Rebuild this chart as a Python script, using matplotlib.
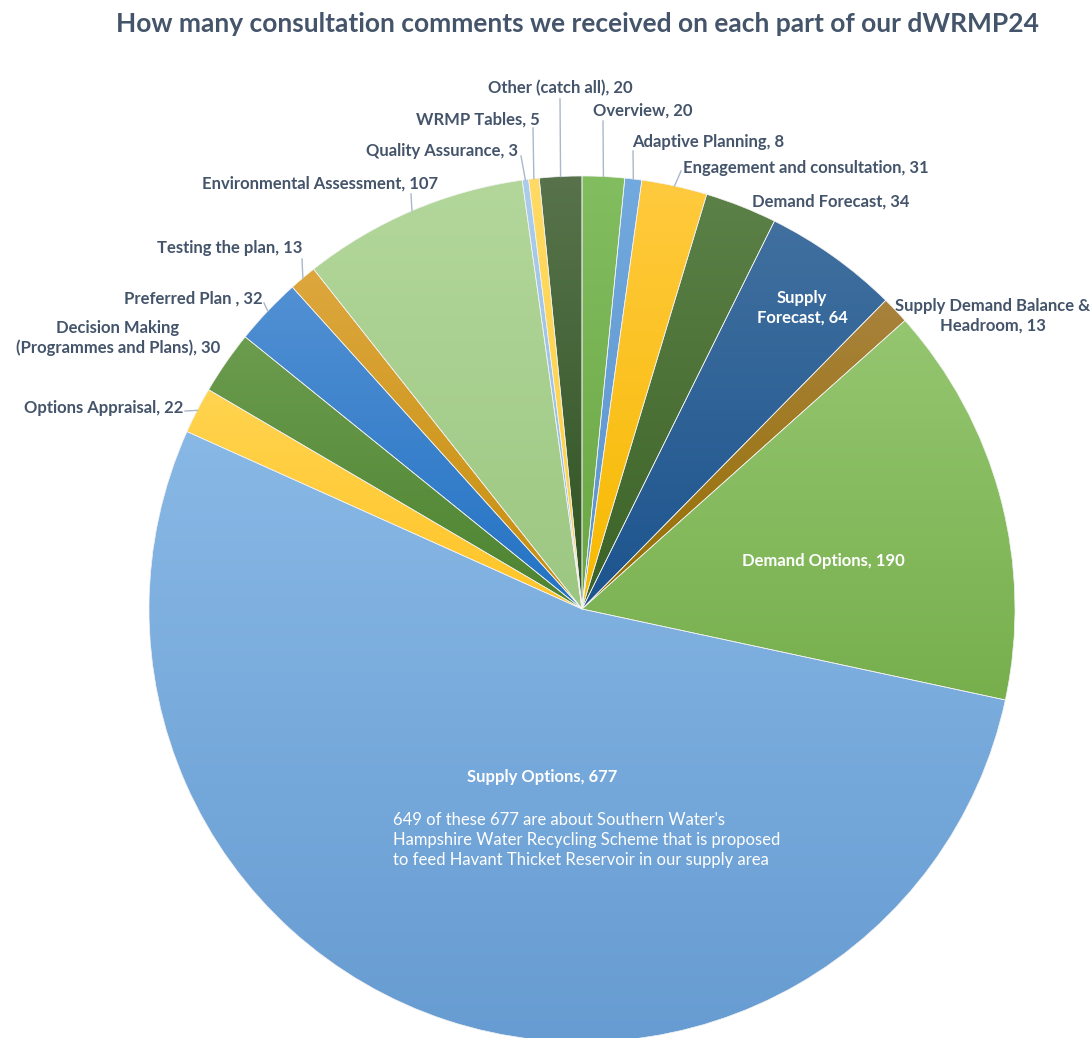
import numpy as np
import matplotlib.pyplot as plt
from matplotlib.colors import LinearSegmentedColormap

W, H = 1090, 1038

sections = ["Overview", "Adaptive Planning", "Engagement and consultation",
            "Demand Forecast", "Supply\nForecast", "Supply Demand Balance &\nHeadroom",
            "Demand Options", "Supply Options", "Options Appraisal",
            "Decision Making\n(Programmes and Plans)", "Preferred Plan ",
            "Testing the plan", "Environmental Assessment", "Quality Assurance",
            "WRMP Tables", "Other (catch all)"]
comments = [20, 8, 31, 34, 64, 13, 190, 677, 22, 30, 32, 13, 107, 3, 5, 20]

# gradient ends for each slice (top, bottom)
top_colors = ["#82BE60", "#72A9DE", "#FFCA3E", "#5C8148", "#41709F", "#A8823C",
              "#95C670", "#88B8E5", "#FFD450", "#6C9C4E", "#5290D3", "#DDA73E",
              "#B3D79B", "#ABCDEC", "#FFDA64", "#58734C"]
bottom_colors = ["#6AA643", "#5A93CC", "#F7B900", "#3B6226", "#1C548E", "#967000",
                 "#77AF4D", "#679CD2", "#FFC426", "#4C8330", "#2272C4", "#C68E0C",
                 "#9CC781", "#90BAE2", "#FFCF3E", "#2E5320"]

supply_note = ("649 of these 677 are about Southern Water's\n"
               "Hampshire Water Recycling Scheme that is proposed\n"
               "to feed Havant Thicket Reservoir in our supply area")

# label anchor (x, y from top), alignment, colour, leader start or None
label_layout = [
    ((593, 111), "left", "dark", (603, 121)),
    ((632, 142), "left", "dark", (633, 151)),
    ((683, 168), "left", "dark", (681, 171)),
    ((752, 202), "left", "dark", None),
    ((802, 308), "center", "light", None),
    ((993, 316), "center", "dark", None),
    ((823, 561), "center", "light", None),
    ((542, 777), "center", "light", None),
    ((183, 408), "right", "dark", (185, 411)),
    ((118, 338), "center", "dark", None),
    ((263, 299), "right", "dark", (264, 303)),
    ((302, 248), "right", "dark", (302, 259)),
    ((438, 184), "right", "dark", (411, 194)),
    ((518, 151), "right", "dark", (521, 156)),
    ((540, 120), "right", "dark", (533, 128)),
    ((560, 88), "center", "dark", (560, 99)),
]

text_dark = "#44546A"
leader_col = "#A9B8CA"
font = "Lato"

fig = plt.figure(figsize=(W / 100, H / 100), dpi=100)
ax = fig.add_axes([0, 0, 1, 1])

cx, cy, r = 582, H - 609, 433
wedges, _ = ax.pie(comments, startangle=90, counterclock=False,
                   center=(cx, cy), radius=r,
                   wedgeprops=dict(linewidth=0.5, edgecolor="#F2F2F2"))

# vertical gradient inside each slice
grad = np.linspace(0, 1, 256).reshape(-1, 1)
for w, top, bot in zip(wedges, top_colors, bottom_colors):
    ext = w.get_path().get_extents()
    cmap = LinearSegmentedColormap.from_list("g", [bot, top])
    im = ax.imshow(grad, extent=[ext.x0, ext.x1, ext.y0, ext.y1], origin="lower",
                   cmap=cmap, aspect="auto", interpolation="bilinear", zorder=1)
    im.set_clip_path(w)
    w.set_facecolor("none")
    w.set_zorder(2)

for w, name, val, (pos, ha, tone, lead) in zip(wedges, sections, comments, label_layout):
    color = "white" if tone == "light" else text_dark
    ax.text(pos[0], H - pos[1], f"{name}, {val}", ha=ha, va="center",
            fontsize=12, fontweight="bold", color=color, family=font,
            linespacing=1.3, multialignment="center", zorder=5)
    if lead is not None:
        mid = np.deg2rad((w.theta1 + w.theta2) / 2)
        ex, ey = cx + r * np.cos(mid), cy + r * np.sin(mid)
        ax.plot([lead[0], ex], [H - lead[1], ey], color=leader_col, lw=1, zorder=4)

ax.text(393, H - 840, supply_note, ha="left", va="center", fontsize=12,
        color="white", family=font, linespacing=1.3, zorder=5)

fig.text(577 / W, 1 - 24 / H,
         "How many consultation comments we received on each part of our dWRMP24",
         ha="center", va="center", fontsize=19, fontweight="bold",
         color=text_dark, family=font)

ax.set_xlim(0, W)
ax.set_ylim(0, H)
ax.set_aspect("auto")
ax.axis("off")

fig.savefig("out.png", dpi=100)
